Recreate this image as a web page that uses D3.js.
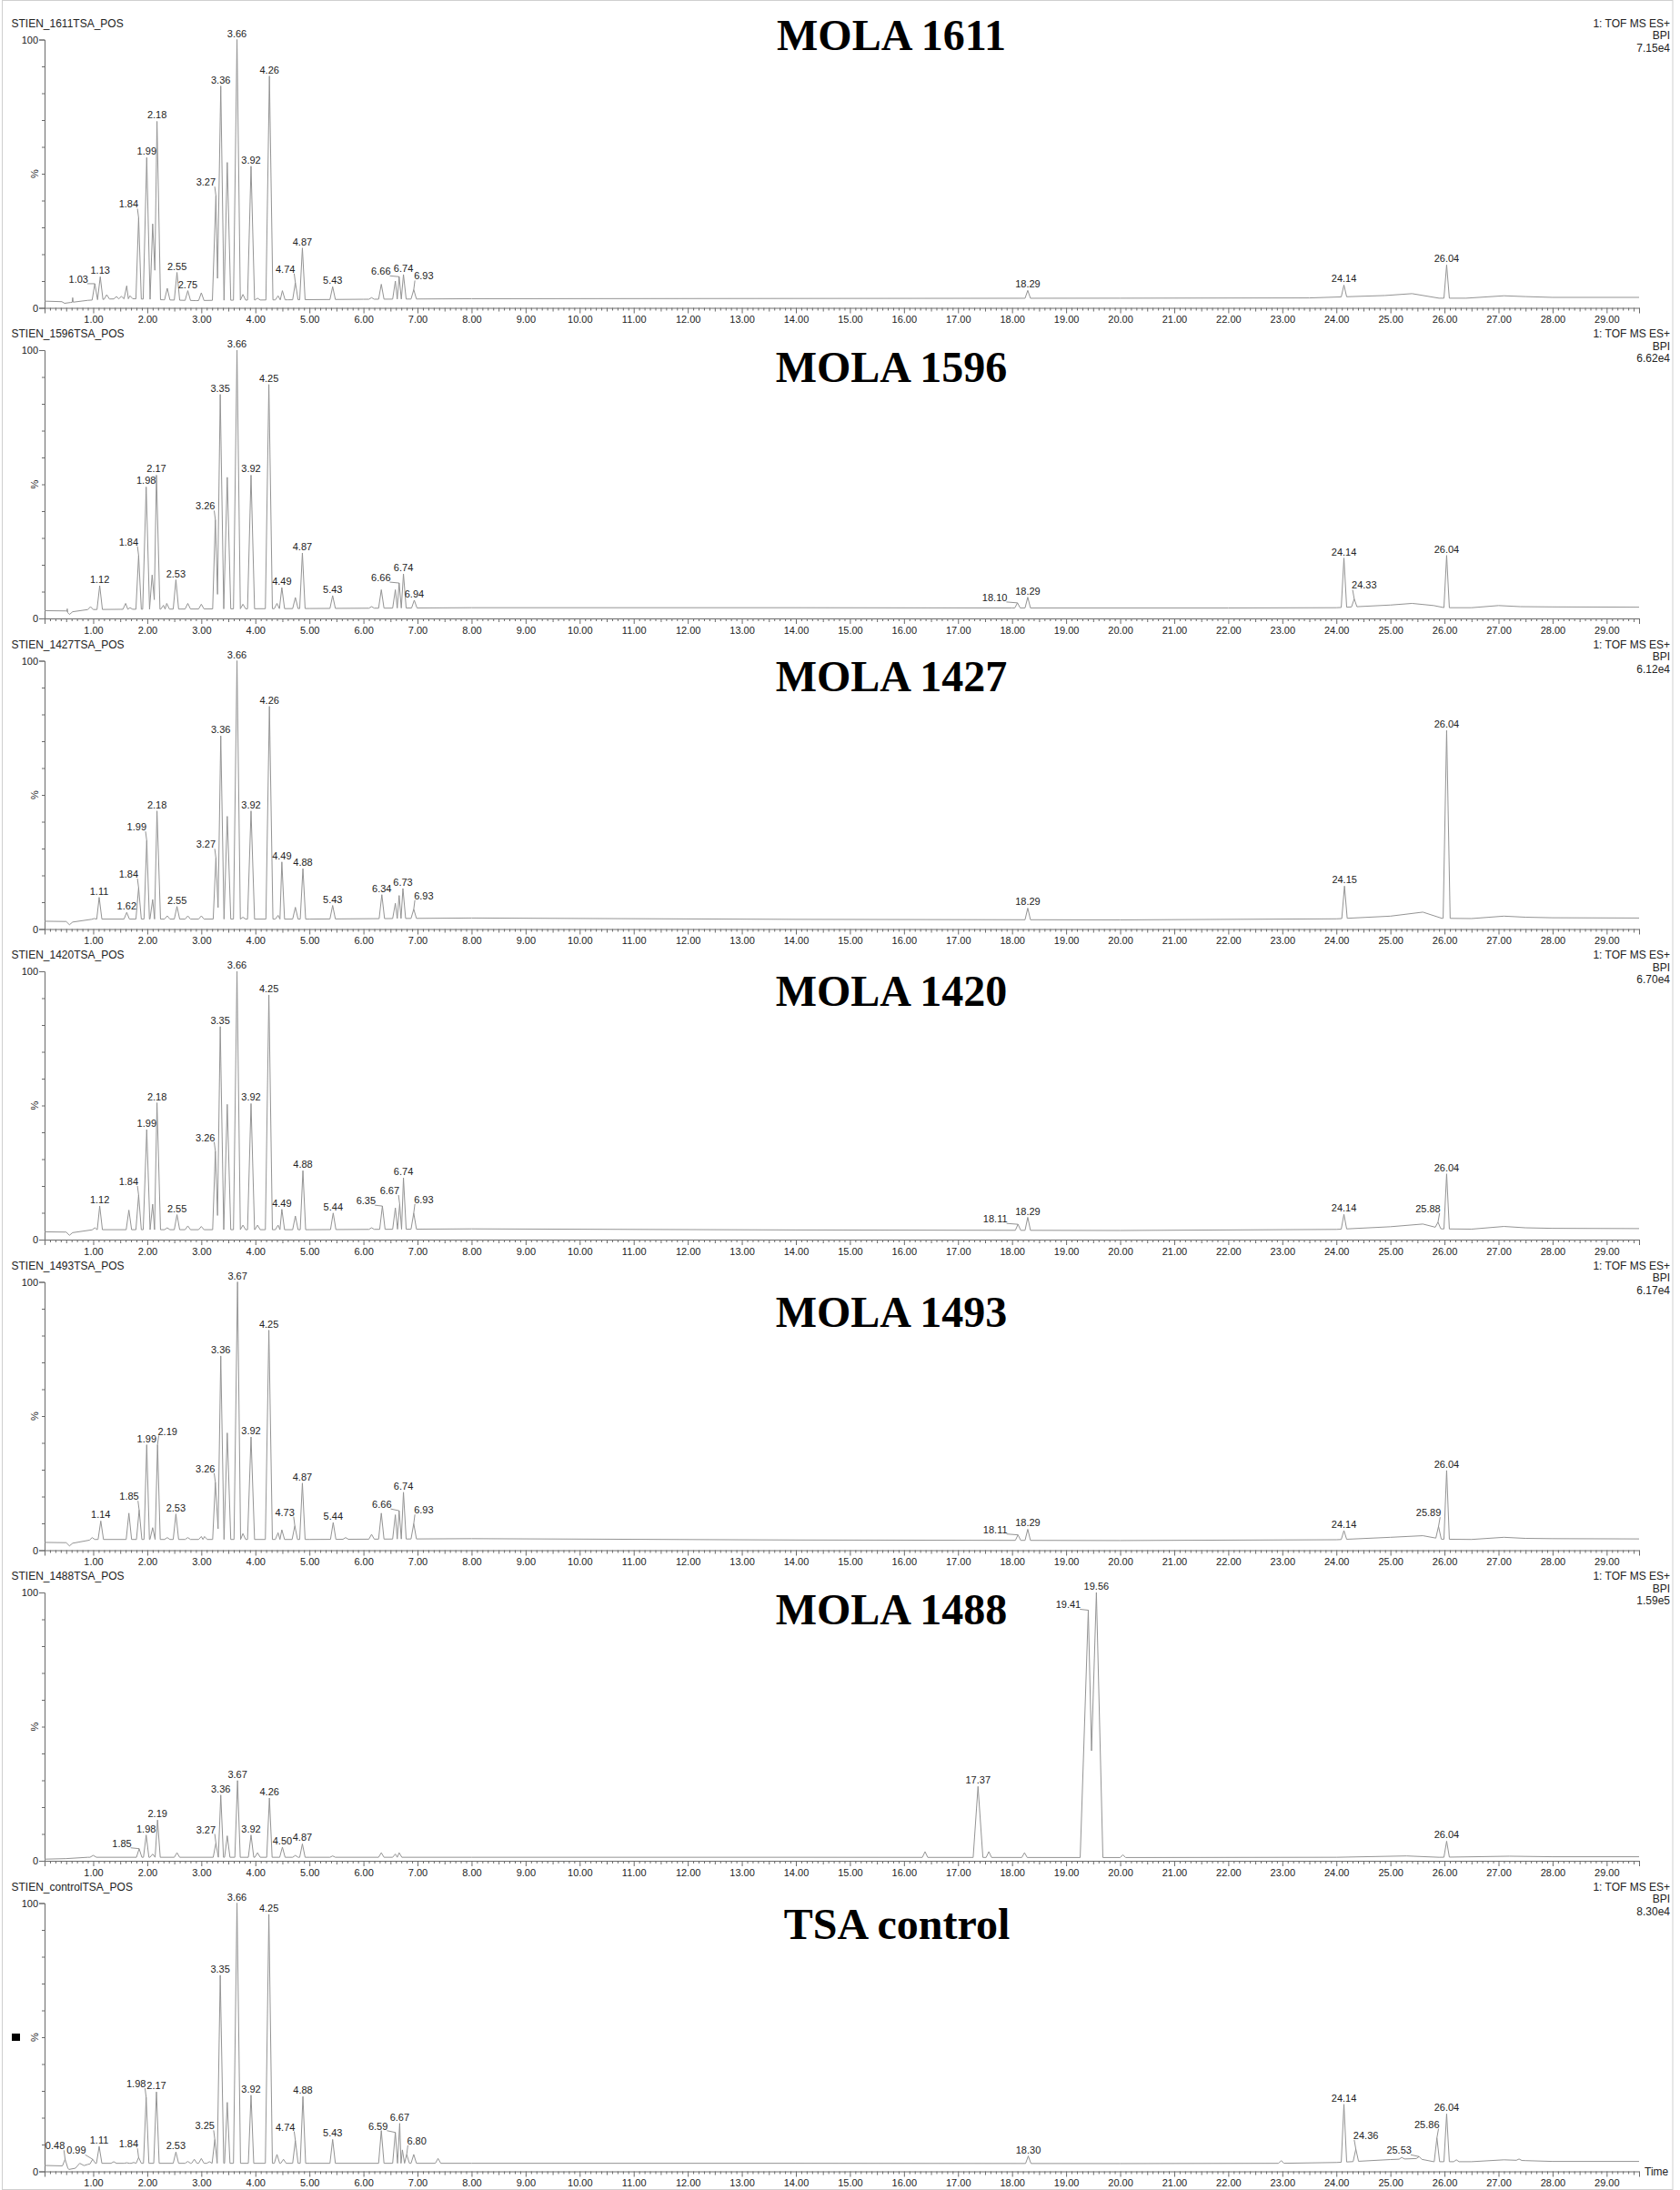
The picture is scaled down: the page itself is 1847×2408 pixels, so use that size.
<!DOCTYPE html>
<html>
<head>
<meta charset="utf-8">
<script src="https://cdn.jsdelivr.net/npm/d3@7"></script>
<style>
  body { margin: 0; background: #fff; }
  svg text { font-family: "Liberation Sans", Arial, sans-serif; fill: #222; }
  .title { font-family: "Liberation Serif", "Times New Roman", serif !important; font-weight: bold; fill: #000 !important; }
</style>
</head>
<body>
<svg id="chart" width="1847" height="2408"></svg>
<script>
/* run names, slide titles and base peak intensity of each trace */
const runNames = ['STIEN_1611TSA_POS', 'STIEN_1596TSA_POS', 'STIEN_1427TSA_POS', 'STIEN_1420TSA_POS',
  'STIEN_1493TSA_POS', 'STIEN_1488TSA_POS', 'STIEN_controlTSA_POS'];
const titles = ['MOLA 1611', 'MOLA 1596', 'MOLA 1427', 'MOLA 1420', 'MOLA 1493', 'MOLA 1488', 'TSA control'];
const bpiScales = ['7.15e4', '6.62e4', '6.12e4', '6.70e4', '6.17e4', '1.59e5', '8.30e4'];
const xTickValues = d3.range(1, 30);

/* baseline nodes [time, %] */
const baseline1 = [[0.1, 2.5], [0.42, 2.3], [0.47, 1.7], [0.58, 2.0], [0.9, 2.8], [1.3, 3.3], [1.75, 3.4], [2.3, 3.0],
  [2.9, 2.7], [3.2, 2.8], [4.6, 3.0], [6.0, 3.2], [8, 3.4], [14, 3.5], [20, 3.6], [23.5, 3.7], [24.9, 4.6],
  [25.4, 5.3], [25.9, 3.6], [26.4, 3.6], [27.1, 4.5], [27.5, 4.2], [28, 3.9], [29.6, 3.9]];
const baseline2 = [[0.1, 2.9], [0.5, 2.8], [0.56, 1.5], [0.62, 2.5], [0.9, 3.3], [1.5, 3.4], [5, 3.7], [8, 4.0],
  [14, 4.0], [18, 3.9], [22, 3.9], [24, 4.0], [25.0, 5.0], [25.4, 5.6], [25.8, 4.8], [26.0, 4.0], [26.5, 4.0],
  [27.0, 4.8], [27.4, 4.4], [28, 4.3], [29.6, 4.2]];
const baseline3 = [[0.1, 2.9], [0.5, 2.8], [0.56, 1.6], [0.62, 2.6], [1.0, 3.7], [5, 3.7], [8, 4.1], [14, 3.6],
  [20, 3.4], [24, 3.8], [25.0, 4.8], [25.6, 6.3], [25.95, 4.0], [26.5, 3.9], [27.1, 4.8], [27.5, 4.4], [28, 4.2],
  [29.6, 4.1]];
const baseline4 = [[0.1, 2.9], [0.5, 2.8], [0.56, 1.6], [0.62, 2.6], [1.0, 3.7], [5, 3.7], [8, 4.0], [14, 3.6],
  [20, 3.4], [24, 3.8], [25.0, 4.8], [25.6, 5.8], [25.95, 4.0], [26.5, 3.9], [27.1, 4.9], [27.5, 4.4], [28, 4.2],
  [29.6, 4.1]];
const baseline5 = [[0.1, 2.9], [0.5, 2.8], [0.56, 1.6], [0.62, 2.6], [1.0, 4.0], [5, 4.0], [8, 4.3], [14, 3.8],
  [20, 3.6], [24, 3.9], [25.0, 4.8], [25.6, 5.4], [25.95, 4.1], [26.5, 4.0], [27.1, 4.8], [27.5, 4.4], [28, 4.3],
  [29.6, 4.2]];
const baseline6 = [[0.1, 0.6], [0.5, 0.8], [0.9, 1.3], [5, 1.3], [8, 1.3], [14, 1.3], [20, 1.2], [24, 1.3],
  [25.3, 1.8], [25.9, 1.3], [27.2, 1.7], [28, 1.5], [29.6, 1.5]];
const baseline7 = [[0.1, 2.2], [0.5, 2.0], [0.55, 0.7], [0.68, 1.2], [0.9, 2.6], [1.0, 3.0], [5, 3.0], [8, 3.0],
  [14, 3.0], [20, 2.9], [23, 3.0], [24, 3.3], [25.0, 4.4], [25.5, 4.8], [25.8, 3.6], [26.5, 3.6], [27.1, 4.3],
  [27.5, 4.0], [28, 3.7], [29.6, 3.7]];

/* peaks [retention time, % of base peak, optional half width in minutes] */
const peaks1 = [[0.62, 3.8, 0.01], [1.03, 9.0], [1.13, 11.6], [1.25, 4.9], [1.43, 4.2], [1.52, 4.3], [1.62, 8.2],
  [1.68, 4.5], [1.84, 33.6], [1.99, 56], [2.10, 31.3], [2.18, 69.5], [2.37, 7.3], [2.55, 13.2], [2.75, 6.4],
  [3.00, 5.6], [3.27, 41.8], [3.36, 82.7], [3.48, 54.2], [3.66, 100], [3.77, 5.0], [3.92, 52.8], [4.04, 3.6],
  [4.26, 86.4], [4.42, 4.5], [4.50, 6.4], [4.74, 9.4], [4.87, 22.3], [5.43, 7.9], [6.15, 3.8], [6.33, 8.8],
  [6.59, 10], [6.66, 11.6], [6.74, 12.4], [6.93, 6.8], [18.29, 6.5], [24.14, 8.5], [26.04, 16]];
const peaks2 = [[0.52, 3.6, 0.01], [0.95, 4.4], [1.12, 12.2], [1.60, 5.6], [1.68, 4.0], [1.84, 23.5], [1.98, 49],
  [2.09, 16.2], [2.17, 53.4], [2.30, 4.9], [2.36, 5.6], [2.53, 14.4], [2.75, 5.6], [3.00, 5.3], [3.26, 36.8],
  [3.35, 83.5], [3.48, 52.6], [3.66, 100], [3.77, 5.3], [3.92, 53.4], [4.25, 87.2], [4.40, 5.6], [4.49, 11.5],
  [4.74, 7.8], [4.87, 24.4], [5.43, 8.5], [6.15, 4.4], [6.33, 10.7], [6.59, 10.7], [6.66, 13.2], [6.74, 16.6],
  [6.94, 6.8], [18.10, 5.8], [18.29, 7.9], [24.14, 22.5], [24.33, 7.3], [26.04, 23.5]];
const peaks3 = [[1.02, 3.9], [1.11, 11.8], [1.62, 6.2], [1.84, 15.4], [1.99, 33], [2.10, 11], [2.18, 44],
  [2.37, 4.9], [2.55, 8.4], [2.75, 4.9], [3.00, 4.9], [3.27, 26.5], [3.36, 72], [3.48, 42], [3.66, 100],
  [3.77, 4.4], [3.92, 44], [4.26, 83], [4.42, 5.1], [4.49, 25], [4.74, 8.1], [4.88, 22.5], [5.43, 8.8],
  [6.34, 12.8], [6.59, 9.6], [6.66, 12.5], [6.73, 15.1], [6.93, 7.4], [18.29, 7.8], [24.15, 16], [26.04, 74]];
const peaks4 = [[1.03, 4.4], [1.12, 12.5], [1.66, 11], [1.84, 16.6], [1.99, 41], [2.10, 13.2], [2.18, 51],
  [2.37, 4.4], [2.55, 9.3], [2.75, 5.1], [3.00, 4.9], [3.26, 33], [3.35, 79.4], [3.48, 50.4], [3.66, 100],
  [3.77, 5.4], [3.92, 50.7], [4.04, 5.4], [4.25, 91.2], [4.42, 5.4], [4.49, 11.3], [4.74, 8.8], [4.88, 25.7],
  [5.44, 9.9], [6.15, 4.4], [6.35, 12.5], [6.59, 11.8], [6.67, 13.2], [6.74, 23], [6.93, 9.9], [18.11, 5.7],
  [18.29, 8.3], [24.14, 9.4], [25.88, 6.5], [26.04, 24.5]];
const peaks5 = [[0.98, 4.7], [1.14, 10.9], [1.66, 13.8], [1.85, 15], [1.99, 39.3], [2.10, 8.4], [2.19, 39.3],
  [2.37, 4.7], [2.53, 13.5], [2.75, 4.7], [3.00, 5.1], [3.06, 5.1], [3.26, 25.3], [3.36, 72.4], [3.48, 43.7],
  [3.67, 100], [3.77, 6.2], [3.92, 42.2], [4.25, 82], [4.42, 6.5], [4.49, 7.6], [4.73, 9.1], [4.87, 25],
  [5.44, 10.3], [5.67, 4.7], [6.15, 5.9], [6.33, 13.8], [6.59, 13.2], [6.66, 14.7], [6.74, 21.6], [6.93, 9.9],
  [18.11, 5.7], [18.29, 7.8], [24.14, 7.3], [25.89, 8.9], [26.04, 29.7]];
const peaks6 = [[1.0, 2.0, 0.06], [1.85, 4.5], [1.98, 9.6], [2.10, 2.5], [2.19, 15.2], [2.55, 3], [3.27, 6.6],
  [3.36, 24.5], [3.48, 9.3], [3.67, 29.9], [3.92, 9.6], [4.04, 3], [4.26, 23.4], [4.50, 5.1], [4.74, 2],
  [4.87, 6.3], [5.43, 1.8], [6.33, 3], [6.59, 2.5], [6.66, 3], [16.39, 3.4], [17.37, 27.7, 0.09], [17.57, 3.4],
  [18.23, 3], [19.41, 93.4, 0.15], [19.56, 100, 0.12], [20.05, 2.2], [26.04, 7.3]];
const peaks7 = [[0.48, 4.5], [0.75, 3.0, 0.08], [0.99, 4.5], [1.11, 9.3], [1.38, 3.6], [1.62, 3.2], [1.75, 3.3],
  [1.84, 5.2], [1.98, 27.6], [2.17, 29.6], [2.53, 7.2], [2.75, 3.7], [2.87, 4.5], [3.00, 4.8], [3.15, 3.6],
  [3.25, 11.9], [3.35, 73.1], [3.48, 25.7], [3.66, 100], [3.92, 28.4], [4.25, 95.8], [4.40, 6.3], [4.52, 4.5],
  [4.74, 11.5], [4.88, 27.9], [5.43, 11.9], [6.33, 15.2], [6.59, 14.5], [6.67, 17.9], [6.72, 8], [6.80, 6.3],
  [6.93, 6.3], [7.38, 4.8], [18.30, 5.7], [22.98, 4], [24.14, 25], [24.36, 8.3], [25.21, 5.2], [25.53, 5.5],
  [25.86, 12.5], [26.04, 21.4], [26.22, 4.3], [27.38, 4.6]];

/* valleys between merged peaks [time, %] */
const valleys1 = [[2.14, 14], [3.30, 11]];
const valleys2 = [[2.13, 7], [3.30, 9]];
const valleys3 = [[3.31, 8]];
const valleys4 = [[3.30, 9]];
const valleys5 = [[3.31, 8]];
const valleys6 = [[19.47, 41]];
const valleys7 = [];

/* labelled retention times */
const labels1 = ['1.03', '1.13', '1.84', '1.99', '2.18', '2.55', '2.75', '3.27', '3.36', '3.66', '3.92', '4.26',
  '4.74', '4.87', '5.43', '6.66', '6.74', '6.93', '18.29', '24.14', '26.04'];
const labels2 = ['1.12', '1.84', '1.98', '2.17', '2.53', '3.26', '3.35', '3.66', '3.92', '4.25', '4.49', '4.87',
  '5.43', '6.66', '6.74', '6.94', '18.10', '18.29', '24.14', '24.33', '26.04'];
const labels3 = ['1.11', '1.62', '1.84', '1.99', '2.18', '2.55', '3.27', '3.36', '3.66', '3.92', '4.26', '4.49',
  '4.88', '5.43', '6.34', '6.73', '6.93', '18.29', '24.15', '26.04'];
const labels4 = ['1.12', '1.84', '1.99', '2.18', '2.55', '3.26', '3.35', '3.66', '3.92', '4.25', '4.49', '4.88',
  '5.44', '6.35', '6.67', '6.74', '6.93', '18.11', '18.29', '24.14', '25.88', '26.04'];
const labels5 = ['1.14', '1.85', '1.99', '2.19', '2.53', '3.26', '3.36', '3.67', '3.92', '4.25', '4.73', '4.87',
  '5.44', '6.66', '6.74', '6.93', '18.11', '18.29', '24.14', '25.89', '26.04'];
const labels6 = ['1.85', '1.98', '2.19', '3.27', '3.36', '3.67', '3.92', '4.26', '4.50', '4.87', '17.37',
  '19.41', '19.56', '26.04'];
const labels7 = ['0.48', '0.99', '1.11', '1.84', '1.98', '2.17', '2.53', '3.25', '3.35', '3.66', '3.92', '4.25',
  '4.74', '4.88', '5.43', '6.59', '6.67', '6.80', '18.30', '24.14', '24.36', '25.53', '25.86', '26.04'];

/* label offsets (px) for labels moved off their peak, drawn with a leader line */
const L = [-11, -8], R = [11, -8];
const nudges = [
  { '1.03': [-18, 2], '1.84': L, '3.27': L, '4.74': L, '6.66': [-20, 1], '6.93': R },
  { '1.84': L, '3.26': L, '6.66': [-20, 1], '18.10': [-25, 1], '24.33': R },
  { '1.84': L, '1.99': L, '3.27': L, '6.93': R },
  { '1.84': L, '3.26': L, '6.35': [-18, 1], '6.67': L, '6.93': R, '18.11': [-25, 1], '25.88': L },
  { '1.85': L, '2.19': R, '3.26': L, '4.73': L, '6.66': [-19, 0], '6.93': R, '18.11': [-25, 1], '25.89': L },
  { '1.85': [-19, 1], '3.27': L, '19.41': [-22, 1] },
  { '0.48': L, '0.99': [-18, -3], '1.84': L, '1.98': L, '3.25': L, '4.74': L, '6.59': [-19, 0], '6.80': R,
    '24.36': R, '25.53': [-22, 0], '25.86': L }
];
const titleBaselines = [55, 420, 760, 1106, 1459, 1786, 2132];
const titleCenters = [980, 980, 980, 980, 980, 980, 986];

const baselines = [baseline1, baseline2, baseline3, baseline4, baseline5, baseline6, baseline7];
const peakLists = [peaks1, peaks2, peaks3, peaks4, peaks5, peaks6, peaks7];
const valleyLists = [valleys1, valleys2, valleys3, valleys4, valleys5, valleys6, valleys7];
const labelLists = [labels1, labels2, labels3, labels4, labels5, labels6, labels7];

const PANEL_STEP = 341.5;
const PLOT_TOP = 43.5;
const PLOT_BOTTOM = 338.5;
const TRACE_COLOR = '#949494';
const AXIS_COLOR = '#6a6a6a';

const svg = d3.select('#chart');
const x = d3.scaleLinear([0.1, 29.6], [49, 1802]);
const y = d3.scaleLinear([0, 100], [PLOT_BOTTOM, PLOT_TOP]);

// the trace: baseline nodes joined with a spike for every peak
function buildTrace(base, peaks, valleys) {
  const bis = d3.bisector((d) => d[0]).right;
  const baseAt = (t) => {
    const i = bis(base, t);
    const a = base[Math.max(0, i - 1)];
    const b = base[Math.min(base.length - 1, i)];
    if (a === b || b[0] === a[0]) return a[1];
    return a[1] + ((b[1] - a[1]) * (t - a[0])) / (b[0] - a[0]);
  };
  const pk = peaks
    .map(([rt, h, w]) => ({ rt, h, w: w || (h > 40 ? 0.065 : 0.05) }))
    .sort((a, b) => a.rt - b.rt);
  const verts = [];
  let cursor = -Infinity;
  const pushBase = (upTo) => {
    base.forEach((d) => {
      if (d[0] > cursor && d[0] < upTo) verts.push(d);
    });
  };
  pk.forEach((p, k) => {
    const prev = pk[k - 1];
    const next = pk[k + 1];
    const joinedPrev = prev && p.rt - prev.rt < prev.w + p.w;
    if (!joinedPrev) {
      const lt = p.rt - p.w;
      pushBase(lt);
      verts.push([lt, baseAt(lt)]);
    }
    verts.push([p.rt, p.h]);
    if (next && next.rt - p.rt < p.w + next.w) {
      const v = valleys.find((d) => d[0] > p.rt && d[0] < next.rt);
      const mt = p.rt + ((next.rt - p.rt) * p.w) / (p.w + next.w);
      verts.push(v || [mt, baseAt(mt)]);
    } else {
      const rt = p.rt + p.w;
      verts.push([rt, baseAt(rt)]);
      cursor = rt;
    }
  });
  pushBase(Infinity);
  return verts;
}

const line = d3
  .line()
  .x((d) => x(d[0]))
  .y((d) => y(d[1]));

runNames.forEach((name, i) => {
  const g = svg.append('g').attr('transform', `translate(0, ${i * PANEL_STEP})`);

  /* x axis: labelled minutes, half-minute and tenth ticks */
  const xAxis = g
    .append('g')
    .attr('transform', `translate(0, ${PLOT_BOTTOM})`)
    .call(d3.axisBottom(x).tickValues(xTickValues).tickFormat(d3.format('.2f')).tickSize(6).tickPadding(3));
  xAxis.select('.domain').attr('stroke', AXIS_COLOR);
  xAxis.selectAll('.tick line').attr('stroke', AXIS_COLOR);
  xAxis.selectAll('text').attr('font-size', 11).attr('fill', '#222');

  const minor = d3.range(2, 297).map((d) => d / 10).filter((d) => Math.abs(d - Math.round(d)) > 1e-6);
  const xMinor = g
    .append('g')
    .attr('transform', `translate(0, ${PLOT_BOTTOM})`)
    .call(
      d3.axisBottom(x).tickValues(minor).tickFormat('').tickSizeOuter(0)
        .tickSizeInner(3)
    );
  xMinor.select('.domain').remove();
  xMinor.selectAll('.tick line')
    .attr('stroke', AXIS_COLOR)
    .attr('y2', (d) => (Math.abs(d * 2 - Math.round(d * 2)) < 1e-6 ? 4 : 3));

  /* y axis */
  const yAxis = g
    .append('g')
    .attr('transform', 'translate(49, 0)')
    .call(d3.axisLeft(y).tickValues([0, 100]).tickSize(6).tickPadding(1));
  yAxis.select('.domain').attr('stroke', AXIS_COLOR);
  yAxis.selectAll('.tick line').attr('stroke', AXIS_COLOR);
  yAxis.selectAll('text').attr('font-size', 11).attr('fill', '#222');
  const yMinor = g
    .append('g')
    .attr('transform', 'translate(49, 0)')
    .call(d3.axisLeft(y).tickValues(d3.range(10, 100, 10)).tickFormat('').tickSize(3));
  yMinor.select('.domain').remove();
  yMinor.selectAll('.tick line').attr('stroke', AXIS_COLOR);

  g.append('text')
    .attr('transform', `translate(42, ${y(50)}) rotate(-90)`)
    .attr('text-anchor', 'middle')
    .attr('font-size', 11)
    .text('%');

  /* header texts */
  g.append('text').attr('x', 12.5).attr('y', 29.5).attr('font-size', 12).text(name);
  ['1: TOF MS ES+', 'BPI', bpiScales[i]].forEach((t, j) => {
    g.append('text')
      .attr('x', 1836)
      .attr('y', 29.5 + j * 13.7)
      .attr('text-anchor', 'end')
      .attr('font-size', 12)
      .text(t);
  });

  /* trace */
  const trace = buildTrace(baselines[i], peakLists[i], valleyLists[i]);
  g.append('path')
    .attr('d', line(trace))
    .attr('fill', 'none')
    .attr('stroke', TRACE_COLOR)
    .attr('stroke-width', 1)
    .attr('stroke-linejoin', 'round');

  /* peak labels */
  const pk = peakLists[i];
  labelLists[i].forEach((lab) => {
    const p = pk.find((d) => Math.abs(d[0] - +lab) < 1e-6);
    if (!p) return;
    const ax = x(p[0]);
    const ay = y(p[1]);
    const nd = nudges[i][lab] || [0, 0];
    const tx = ax + nd[0];
    const ty = ay - 3 + nd[1];
    const t = g.append('text')
      .attr('x', tx)
      .attr('y', ty)
      .attr('text-anchor', 'middle')
      .attr('font-size', 11)
      .text(lab);
    if (nd[0] !== 0 || nd[1] !== 0) {
      const half = t.node().getComputedTextLength() / 2;
      const sx = nd[0] < 0 ? tx + half - 1 : tx - half + 1;
      g.append('line')
        .attr('x1', sx)
        .attr('y1', ty + 1)
        .attr('x2', ax)
        .attr('y2', ay)
        .attr('stroke', '#777')
        .attr('stroke-width', 0.8);
    }
  });

  /* slide title */
  g.append('text')
    .attr('class', 'title')
    .attr('x', titleCenters[i])
    .attr('y', titleBaselines[i] - i * PANEL_STEP)
    .attr('text-anchor', 'middle')
    .attr('font-size', 48)
    .text(titles[i]);
});

/* last trace: axis caption and the marker square */
const lastTop = 6 * PANEL_STEP;
svg.append('text')
  .attr('x', 1808)
  .attr('y', lastTop + PLOT_BOTTOM + 4)
  .attr('font-size', 12)
  .text('Time');
svg.append('rect')
  .attr('x', 13)
  .attr('y', lastTop + y(50) - 4)
  .attr('width', 9)
  .attr('height', 8)
  .attr('fill', '#000');

/* frame around the picture */
svg.append('rect')
  .attr('x', 2.5)
  .attr('y', 0.5)
  .attr('width', 1836.5)
  .attr('height', 2407)
  .attr('fill', 'none')
  .attr('stroke', '#cfcfcf');
</script>
</body>
</html>
